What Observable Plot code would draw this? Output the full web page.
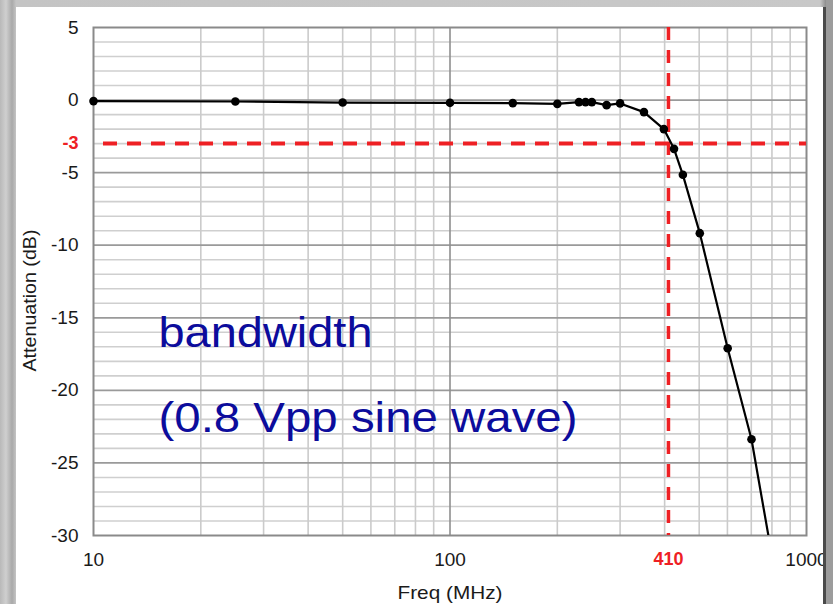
<!DOCTYPE html>
<html>
<head>
<meta charset="utf-8">
<script src="https://cdn.jsdelivr.net/npm/d3@7"></script>
<script src="https://cdn.jsdelivr.net/npm/@observablehq/plot@0.6"></script>
<style>
  html, body { margin: 0; padding: 0; }
  body { width: 833px; height: 604px; position: relative; overflow: hidden;
         background: linear-gradient(90deg, #b9b9b9 0px, #cfcfcf 6px, #a9a9a9 12px, #c4c4c4 16px, #c8c8c8 820px, #8d8d8d 826px, #9a9a9a 833px); }
  #panel { position: absolute; left: 16px; top: 7px; width: 807px; height: 597px; background: #fff; }
  #chart { position: absolute; left: 0; top: 0; }
  #strip { position: absolute; left: 823px; top: 7px; width: 3px; height: 597px; background: #4a4a4a; }
  #strip2 { position: absolute; left: 826px; top: 0; width: 7px; height: 604px; background: #9c9c9c; }
</style>
</head>
<body>
<div id="panel"></div>
<div id="chart"></div>
<div id="strip2"></div>
<div id="strip"></div>
<script>
// Measured response: frequency (MHz) and attenuation (dB)
const freq = [10, 25, 50, 100, 150, 200, 230, 240, 250, 275, 300, 350, 398, 425, 450, 502, 601, 701, 800];
const atten = [-0.07, -0.1, -0.17, -0.19, -0.21, -0.26, -0.14, -0.14, -0.14, -0.35, -0.23, -0.83, -2.0, -3.36, -5.15, -9.17, -17.1, -23.37, -31.4];
// Markers drawn only for measured points inside the plot
const markerFreq = freq.slice(0, 18);
const markerAtten = atten.slice(0, 18);

// Axis ticks
const yTickValues = [5, 0, -5, -10, -15, -20, -25, -30];
const xTickValues = [10, 100, 1000];
// Grid lines
const yMinorGrid = [4,3,2,1,-1,-2,-3,-4,-6,-7,-8,-9,-11,-12,-13,-14,-16,-17,-18,-19,-21,-22,-23,-24,-26,-27,-28,-29];
const yMajorGrid = [0, -5, -10, -15, -20, -25];
const xMinorGrid = [20, 30, 40, 50, 60, 70, 80, 90, 200, 300, 400, 500, 600, 700, 800, 900];
const xMajorGrid = [100];
// Reference lines
const cutoffDb = [-3];
const cutoffFreq = [410];
// Annotation
const noteLines = ["bandwidth", "(0.8 Vpp sine wave)"];

const data = freq.map((f, i) => ({f, a: atten[i]}));
const markers = markerFreq.map((f, i) => ({f, a: markerAtten[i]}));

const font = "'Liberation Sans', Arial, sans-serif";
const red = "#ee2024";
const ink = "#1a1a1a";

const chart = Plot.plot({
  width: 833,
  height: 604,
  marginLeft: 93,
  marginRight: 27,
  marginTop: 27,
  marginBottom: 69,
  style: { background: "transparent", fontFamily: font, fontSize: "19px", color: ink },
  x: { type: "log", domain: [10, 1000] },
  y: { domain: [-30, 5] },
  marks: [
    Plot.ruleY(yMinorGrid, { stroke: "#cfcfcf", strokeWidth: 1.6 }),
    Plot.ruleX(xMinorGrid, { stroke: "#cbcbcb", strokeWidth: 1.6 }),
    Plot.ruleY(yMajorGrid, { stroke: "#9a9a9a", strokeWidth: 1.8 }),
    Plot.ruleX(xMajorGrid, { stroke: "#8f8f8f", strokeWidth: 1.6 }),
    Plot.frame({ stroke: "#8a8a8a", strokeWidth: 2 }),
    Plot.axisY(yTickValues, { tickSize: 0, tickPadding: 15, fontSize: 19, fill: ink, label: null, tickFormat: d => String(d) }),
    Plot.axisY(cutoffDb, { tickSize: 0, tickPadding: 15, fontSize: 18, fontWeight: "bold", fill: red, label: null, tickFormat: d => String(d) }),
    Plot.axisX(xTickValues, { tickSize: 0, tickPadding: 17, fontSize: 19, fill: ink, label: null, tickFormat: d => String(d) }),
    Plot.axisX(cutoffFreq, { tickSize: 0, tickPadding: 17, fontSize: 18, fontWeight: "bold", fill: red, label: null, tickFormat: d => String(d) }),
    Plot.text(["Freq (MHz)"], { frameAnchor: "bottom", dy: 57, textAnchor: "middle", lineAnchor: "middle", fontSize: 19, fill: ink }),
    Plot.text(["Attenuation (dB)"], { frameAnchor: "left", dx: -64, dy: 19, rotate: -90, textAnchor: "middle", lineAnchor: "middle", fontSize: 19, fill: ink }),
    Plot.text([noteLines[0]], { frameAnchor: "top-left", dx: 65, dy: 306, textAnchor: "start", lineAnchor: "middle", fontSize: 43, fill: "#0c0c9c" }),
    Plot.text([noteLines[1]], { frameAnchor: "top-left", dx: 65, dy: 391, textAnchor: "start", lineAnchor: "middle", fontSize: 43, fill: "#0c0c9c" }),
    Plot.ruleY(cutoffDb, { stroke: red, strokeWidth: 4, strokeDasharray: "14,10", strokeDashoffset: 14 }),
    Plot.ruleX(cutoffFreq, { stroke: red, strokeWidth: 3.5, strokeDasharray: "13,10" }),
    Plot.line(data, { x: "f", y: "a", stroke: "#000", strokeWidth: 2.2, clip: true }),
    Plot.dot(markers, { x: "f", y: "a", r: 4.3, fill: "#000", stroke: "none" })
  ]
});
// The reference typeface is slightly wider than Liberation Sans: fit widths
const fitWidths = new Map([[noteLines[0], 214], [noteLines[1], 419], ["Freq (MHz)", 105], ["Attenuation (dB)", 142]]);
d3.select(chart).selectAll("text").each(function () {
  const w = fitWidths.get(this.textContent);
  if (w) d3.select(this).attr("textLength", w).attr("lengthAdjust", "spacingAndGlyphs");
});
document.getElementById("chart").appendChild(chart);
</script>
</body>
</html>
